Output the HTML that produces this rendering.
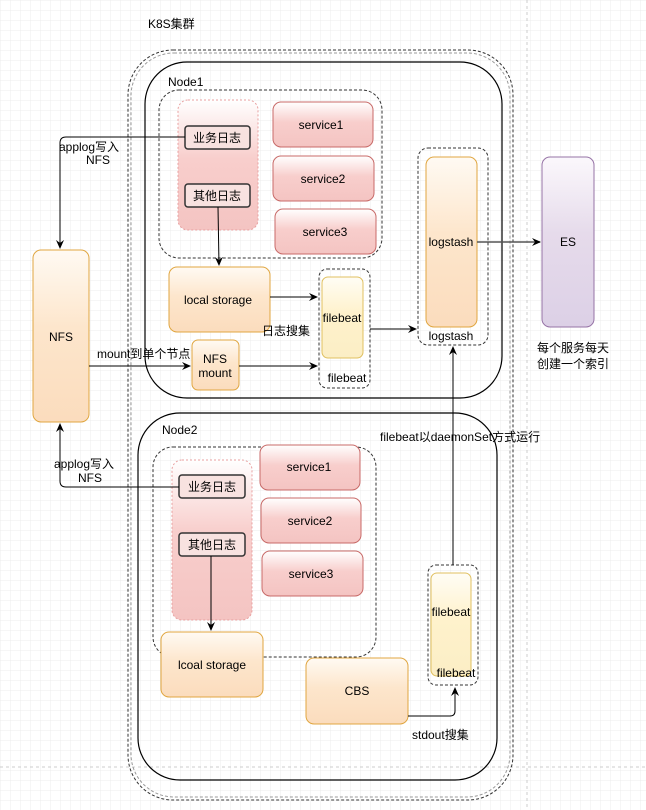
<!DOCTYPE html>
<html><head><meta charset="utf-8"><style>
html,body{margin:0;padding:0;background:#fff}
svg{display:block}
text{font-family:"Liberation Sans","Noto Sans CJK SC",sans-serif;font-size:12px;fill:#000}
</style></head><body>
<svg width="646" height="810" viewBox="0 0 646 810" xmlns="http://www.w3.org/2000/svg">
<defs>
<pattern id="g" width="10" height="10" patternUnits="userSpaceOnUse"><path d="M10 0H0V10" fill="none" stroke="#ececec" stroke-width="1"/></pattern>
<linearGradient id="pk" x1="0" y1="0" x2="0" y2="1"><stop offset="0" stop-color="#fff"/><stop offset="0.45" stop-color="#f8cecc"/><stop offset="1" stop-color="#f4c4c2"/></linearGradient>
<linearGradient id="or" x1="0" y1="0" x2="0" y2="1"><stop offset="0" stop-color="#fffaf3"/><stop offset="0.45" stop-color="#fde6cc"/><stop offset="1" stop-color="#fbdcbd"/></linearGradient>
<linearGradient id="yl" x1="0" y1="0" x2="0" y2="1"><stop offset="0" stop-color="#fffdf5"/><stop offset="0.45" stop-color="#fff2cc"/><stop offset="1" stop-color="#fbeec5"/></linearGradient>
<linearGradient id="pu" x1="0" y1="0" x2="0" y2="1"><stop offset="0" stop-color="#fbf8fc"/><stop offset="0.45" stop-color="#e6dbeb"/><stop offset="1" stop-color="#dcd0e6"/></linearGradient>
<marker id="a" markerWidth="10" markerHeight="10" refX="8" refY="5" orient="auto" markerUnits="userSpaceOnUse"><path d="M0 1L9 5L0 9L3 5Z" fill="#000"/></marker>
</defs>
<rect width="646" height="810" fill="url(#g)"/>
<line x1="0" y1="767" x2="646" y2="767" stroke="#ccc" stroke-dasharray="3,3"/>
<line x1="527" y1="0" x2="527" y2="810" stroke="#ccc" stroke-dasharray="3,3"/>
<text x="148" y="28">K8S集群</text>
<rect x="128" y="50" width="385" height="750" rx="45" fill="none" stroke="#333" stroke-dasharray="3,2"/>
<rect x="131" y="53" width="379" height="744" rx="43" fill="none" stroke="#999" stroke-dasharray="3,2"/>
<!-- Node1 -->
<rect x="145" y="62" width="357" height="336" rx="42" fill="none" stroke="#000" stroke-width="1.2"/>
<text x="168" y="86">Node1</text>
<rect x="159" y="90" width="223" height="168" rx="20" fill="none" stroke="#333" stroke-dasharray="3,2"/>
<rect x="178" y="100" width="80" height="130" rx="10" fill="url(#pk)" stroke="#e8a0a0" stroke-dasharray="2,2"/>
<rect x="185" y="126" width="65" height="23" rx="3" fill="#f8e2e0" stroke="#333" stroke-width="1.5"/>
<text x="217" y="142" text-anchor="middle">业务日志</text>
<rect x="185" y="184" width="65" height="23" rx="3" fill="#f8e2e0" stroke="#333" stroke-width="1.5"/>
<text x="217" y="200" text-anchor="middle">其他日志</text>
<rect x="273" y="102" width="100" height="45" rx="8" fill="url(#pk)" stroke="#c86a68"/>
<text x="321" y="129" text-anchor="middle">service1</text>
<rect x="273" y="156" width="101" height="45" rx="8" fill="url(#pk)" stroke="#c86a68"/>
<text x="323" y="183" text-anchor="middle">service2</text>
<rect x="275" y="209" width="101" height="45" rx="8" fill="url(#pk)" stroke="#c86a68"/>
<text x="325" y="236" text-anchor="middle">service3</text>
<rect x="169" y="267" width="101" height="65" rx="8" fill="url(#or)" stroke="#e0a640"/>
<text x="218" y="304" text-anchor="middle">local storage</text>
<rect x="319" y="269" width="51" height="119" rx="8" fill="none" stroke="#333" stroke-dasharray="3,2"/>
<rect x="322" y="277" width="41" height="81" rx="6" fill="url(#yl)" stroke="#e0c060"/>
<text x="342" y="322" text-anchor="middle">filebeat</text>
<text x="347" y="382" text-anchor="middle">filebeat</text>
<rect x="192" y="340" width="47" height="50" rx="6" fill="url(#or)" stroke="#e0a640"/>
<text x="215" y="363" text-anchor="middle">NFS</text>
<text x="215" y="377" text-anchor="middle">mount</text>
<text x="262" y="335">日志搜集</text>
<!-- logstash / ES -->
<rect x="418" y="148" width="70" height="197" rx="10" fill="none" stroke="#333" stroke-dasharray="3,2"/>
<rect x="426" y="157" width="51" height="170" rx="8" fill="url(#or)" stroke="#e0a640"/>
<text x="451" y="246" text-anchor="middle">logstash</text>
<text x="451" y="340" text-anchor="middle">logstash</text>
<rect x="542" y="157" width="52" height="170" rx="8" fill="url(#pu)" stroke="#9673a6"/>
<text x="568" y="246" text-anchor="middle">ES</text>
<text x="573" y="352" text-anchor="middle">每个服务每天</text>
<text x="573" y="368" text-anchor="middle">创建一个索引</text>
<!-- NFS -->
<rect x="33" y="250" width="56" height="172" rx="8" fill="url(#or)" stroke="#e0a640"/>
<text x="61" y="341" text-anchor="middle">NFS</text>
<text x="97" y="358">mount到单个节点</text>
<text x="89" y="151" text-anchor="middle">applog写入</text>
<text x="98" y="164" text-anchor="middle">NFS</text>
<!-- Node2 -->
<rect x="138" y="413" width="359" height="367" rx="42" fill="none" stroke="#000" stroke-width="1.2"/>
<text x="162" y="434">Node2</text>
<text x="380" y="441">filebeat以daemonSet方式运行</text>
<rect x="153" y="447" width="223" height="210" rx="20" fill="none" stroke="#333" stroke-dasharray="3,2"/>
<rect x="172" y="460" width="80" height="160" rx="10" fill="url(#pk)" stroke="#e8a0a0" stroke-dasharray="2,2"/>
<rect x="179" y="475" width="66" height="23" rx="3" fill="#f8e2e0" stroke="#333" stroke-width="1.5"/>
<text x="212" y="491" text-anchor="middle">业务日志</text>
<rect x="179" y="533" width="66" height="23" rx="3" fill="#f8e2e0" stroke="#333" stroke-width="1.5"/>
<text x="212" y="549" text-anchor="middle">其他日志</text>
<rect x="260" y="445" width="100" height="45" rx="8" fill="url(#pk)" stroke="#c86a68"/>
<text x="309" y="471" text-anchor="middle">service1</text>
<rect x="261" y="498" width="100" height="45" rx="8" fill="url(#pk)" stroke="#c86a68"/>
<text x="310" y="525" text-anchor="middle">service2</text>
<rect x="262" y="551" width="101" height="45" rx="8" fill="url(#pk)" stroke="#c86a68"/>
<text x="311" y="578" text-anchor="middle">service3</text>
<rect x="161" y="632" width="102" height="65" rx="8" fill="url(#or)" stroke="#e0a640"/>
<text x="212" y="669" text-anchor="middle">lcoal storage</text>
<rect x="306" y="658" width="102" height="66" rx="8" fill="url(#or)" stroke="#e0a640"/>
<text x="357" y="695" text-anchor="middle">CBS</text>
<rect x="428" y="565" width="50" height="120" rx="8" fill="none" stroke="#333" stroke-dasharray="3,2"/>
<rect x="431" y="573" width="40" height="103" rx="6" fill="url(#yl)" stroke="#e0c060"/>
<text x="451" y="616" text-anchor="middle">filebeat</text>
<text x="456" y="677" text-anchor="middle">filebeat</text>
<text x="412" y="739">stdout搜集</text>
<text x="84" y="468" text-anchor="middle">applog写入</text>
<text x="90" y="482" text-anchor="middle">NFS</text>
<!-- connectors -->
<g fill="none" stroke="#000" stroke-width="1">
<path d="M185 137H66Q60 137 60 143V248" marker-end="url(#a)"/>
<path d="M218 207L219 265" marker-end="url(#a)"/>
<path d="M89 366H190" marker-end="url(#a)"/>
<path d="M239 366H317" marker-end="url(#a)"/>
<path d="M270 297H317" marker-end="url(#a)"/>
<path d="M370 329H416" marker-end="url(#a)"/>
<path d="M477 242H540" marker-end="url(#a)" stroke="#555" stroke-width="1.5"/>
<path d="M179 487H66Q60 487 60 481V424" marker-end="url(#a)"/>
<path d="M211 556V630" marker-end="url(#a)"/>
<path d="M408 716H450Q455 716 455 711V688" marker-end="url(#a)"/>
<path d="M453 565V347" marker-end="url(#a)"/>
</g>
</svg>
</body></html>
